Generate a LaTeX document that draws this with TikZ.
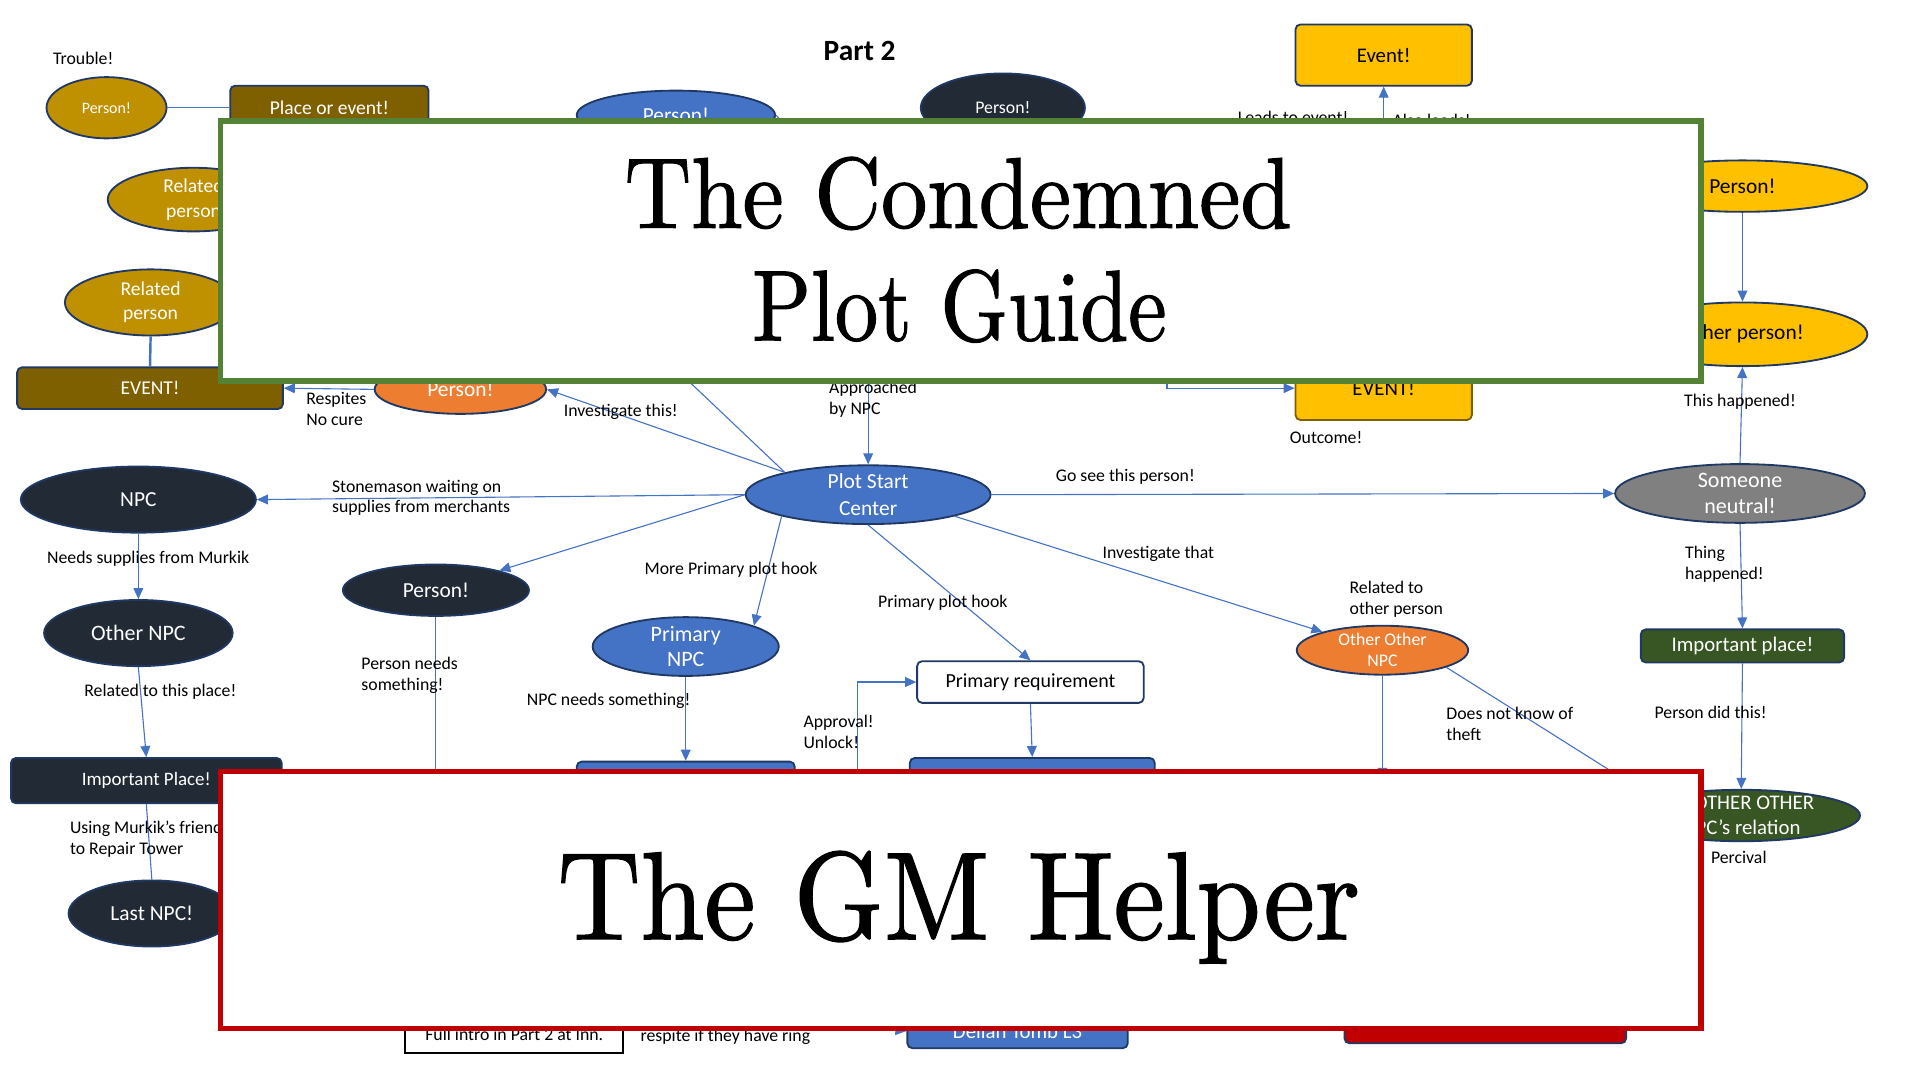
\documentclass[tikz,border=0pt]{standalone}
\usepackage{fontspec}
\setsansfont{Carlito}
\newfontfamily\titlefont[FakeBold=1.2]{lmroman10-regular.otf}
\usetikzlibrary{shapes.geometric,arrows.meta}

\definecolor{gold}{HTML}{BF9000}
\definecolor{umber}{HTML}{7F6000}
\definecolor{navy}{HTML}{222A35}
\definecolor{slate}{HTML}{1F3864}
\definecolor{cblue}{HTML}{4472C4}
\definecolor{amber}{HTML}{FFC000}
\definecolor{tangerine}{HTML}{ED7D31}
\definecolor{fern}{HTML}{375623}
\definecolor{grass}{HTML}{548235}
\definecolor{crimson}{HTML}{C00000}
\definecolor{stone}{HTML}{808080}

\newcommand\fsz[2]{\sffamily\fontsize{#1}{#2}\selectfont}

\begin{document}
\begin{tikzpicture}[x=1pt, y=-1pt,
  person/.style={ellipse, draw=slate, line width=1.5pt, inner sep=-4pt, text=white, align=center},
  place/.style={rectangle, rounded corners=4pt, draw=slate, line width=1.5pt, inner sep=0pt, text=white, align=center},
  arr/.style={draw=cblue, line width=0.9pt, -{Triangle[length=9pt,width=8pt]}},
  link/.style={draw=cblue, line width=0.9pt},
  lbl/.style={inner sep=0pt, align=left, font=\fsz{14.5}{17}}]
\useasboundingbox (0,0) rectangle (1568,882);

% left cluster
\node[person, fill=gold, minimum width=98pt, minimum height=50pt, font=\fsz{13}{15}] (p1) at (87,88) {Person!};
\node[place, fill=umber, minimum width=162pt, minimum height=36pt, font=\fsz{16}{19}] (place) at (269,88) {Place or event!};
\node[person, fill=gold, minimum width=140pt, minimum height=52pt, font=\fsz{16}{20}] (rel1) at (158,163) {Related\\person};
\node[person, fill=gold, minimum width=140pt, minimum height=54pt, font=\fsz{16}{20}] (rel2) at (123,247) {Related\\person};
\node[place, fill=umber, minimum width=217pt, minimum height=34pt, font=\fsz{16}{19}] (ev1) at (122.5,317) {EVENT!};
\node[person, fill=tangerine, minimum width=140pt, minimum height=40pt, font=\fsz{17.5}{21}] (po) at (376,318) {Person!};

% top row
\node[person, fill=cblue, minimum width=162pt, minimum height=40pt, font=\fsz{17.5}{21}] (pb) at (552,94) {Person!};
\node[person, fill=navy, minimum width=134pt, minimum height=56pt, font=\fsz{14.5}{17}] (pn) at (819,88) {Person!};
\node[place, fill=amber, text=black, minimum width=144pt, minimum height=50pt, font=\fsz{17}{20}] (ev) at (1130,45) {Event!};
\node[place, fill=amber, text=black, draw=umber, minimum width=144pt, minimum height=52pt, font=\fsz{17}{20}] (ev2) at (1130,317) {EVENT!};
\node[person, fill=amber, text=black, minimum width=204pt, minimum height=42pt, font=\fsz{17.5}{21}] (py1) at (1423,152) {Person!};
\node[person, fill=amber, text=black, minimum width=204pt, minimum height=52pt, font=\fsz{17.5}{21}] (py2) at (1423,273) {Other person!};

% middle
\node[person, fill=cblue, minimum width=200pt, minimum height=48pt, font=\fsz{17.5}{22}] (psc) at (709,404) {Plot Start\\Center};
\node[person, fill=navy, minimum width=192pt, minimum height=54pt, font=\fsz{17.5}{21}] (npc) at (113,408) {NPC};
\node[person, fill=navy, minimum width=154pt, minimum height=54pt, font=\fsz{18}{21}] (onpc) at (113,517) {Other NPC};
\node[place, fill=navy, minimum width=221pt, minimum height=37pt, font=\fsz{15.5}{18}] (ip) at (119.5,637.5) {Important Place!};
\node[person, fill=navy, minimum width=136pt, minimum height=54pt, font=\fsz{17.5}{21}] (lnpc) at (124,746) {Last NPC!};
\node[person, fill=navy, minimum width=152pt, minimum height=42pt, font=\fsz{17.5}{21}] (p3) at (356,482) {Person!};
\node[person, fill=cblue, minimum width=152pt, minimum height=48pt, font=\fsz{18}{21}] (pnpc) at (560,528) {Primary\\NPC};
\node[place, fill=cblue, minimum width=178pt, minimum height=60pt] (bx1) at (560,652) {};
\node[place, fill=white, text=black, minimum width=185pt, minimum height=34pt, font=\fsz{16.3}{19}] (preq) at (841.5,557) {Primary requirement};
\node[place, fill=cblue, minimum width=200pt, minimum height=60pt] (bx2) at (843,649) {};
\node[person, fill=tangerine, minimum width=140pt, minimum height=40pt, font=\fsz{14.5}{17}] (oonpc) at (1129,531) {Other Other\\NPC};
\node[person, fill=stone, minimum width=204pt, minimum height=48pt, font=\fsz{18}{21}] (sn) at (1421,403) {Someone\\neutral!};
\node[place, fill=fern, minimum width=166pt, minimum height=27pt, font=\fsz{17}{20}] (ipg) at (1423,527.5) {Important place!};
\node[person, fill=fern, minimum width=194pt, minimum height=42pt, font=\fsz{17}{20}] (aon) at (1422,666) {ANOTHER OTHER\\NPC’s relation};

% bottom strip
\node[rectangle, draw=black, line width=1.5pt, fill=white, minimum width=178pt, minimum height=30pt, font=\fsz{14.5}{17}] (fib) at (420,845) {Full intro in Part 2 at Inn.};
\node[place, fill=cblue, minimum width=180pt, minimum height=28pt, font=\fsz{17}{20}] (dt) at (831,842) {Delian Tomb L3};
\node[place, fill=crimson, minimum width=230pt, minimum height=28pt] (rb) at (1213,838) {};

% loose ends under the banners
\coordinate (c1) at (540,290);
\coordinate (c2) at (709,300);
\coordinate (c3) at (1130,110);
\coordinate (c4) at (953,300);
\coordinate (c5) at (650,112);
\coordinate (c6) at (356,640);
\coordinate (c7) at (700,640);
\coordinate (c8) at (1129,636);
\coordinate (c9) at (1332,640);
\coordinate (c10) at (690,838);

% connectors
\draw[link] (p1.east) -- (place.west);
\draw[link] (rel1) -- (place);
\draw[draw=cblue, line width=2pt] (rel2.south) -- (ev1.north);
\draw[arr] (po.west) -- (ev1.east);
\draw[link] (pb.east) -- (c5);
\draw[arr] (c3) -- (ev.south);
\draw[arr] (c4) |- (ev2.west);
\draw[arr] (py1.south) -- (py2.north);
\draw[arr] (sn.north) -- (py2.south);
\draw[arr] (psc.165) -- (po.east);
\draw[link] (psc.165) -- (c1);
\draw[arr] (c2) -- (psc.north);
\draw[arr] (psc.west) -- (npc.east);
\draw[arr] (psc.west) -- (p3);
\draw[arr] (psc.194) -- (pnpc.17);
\draw[arr] (psc.south) -- (preq.north);
\draw[arr] (psc.346) -- (oonpc.163);
\draw[arr] (psc.east) -- (sn.west);
\draw[arr] (npc.south) -- (onpc.north);
\draw[arr] (onpc.south) -- (ip.north);
\draw[link] (ip.south) -- (lnpc.north);
\draw[link] (p3.south) -- (c6);
\draw[arr] (pnpc.south) -- (bx1.north);
\draw[arr] (c7) |- (preq.west);
\draw[arr] (preq.south) -- (bx2.north);
\draw[arr] (oonpc.south) -- (c8);
\draw[link] (oonpc.345) -- (c9);
\draw[arr] (sn.south) -- (ipg.north);
\draw[arr] (ipg.south) -- (aon.north);
\draw[arr] (c10) -- (dt.west);

% labels
\node[inner sep=0pt, font=\fsz{24}{28}\bfseries] (part) at (702,42) {Part 2};
\node[lbl] (trouble) at (68,48) {Trouble!};
\node[lbl, anchor=west] (respites) at (250,334) {Respites\\No cure};
\node[lbl] (invthis) at (507,336) {Investigate this!};
\node[lbl, anchor=west] (approached) at (677,326) {Approached\\by NPC};
\node[lbl, anchor=west] (stonemason) at (271,406.5) {Stonemason waiting on\\supplies from merchants};
\node[lbl] (gosee) at (919,389) {Go see this person!};
\node[lbl] (needs) at (121,456) {Needs supplies from Murkik};
\node[lbl] (morehook) at (597,465) {More Primary plot hook};
\node[lbl] (invthat) at (946,452) {Investigate that};
\node[lbl] (hook) at (770,492) {Primary plot hook};
\node[lbl, anchor=west] (relto) at (1102,489.5) {Related to\\other person};
\node[lbl, anchor=west] (thing) at (1376,460.5) {Thing\\happened!};
\node[lbl] (thishap) at (1421,328) {This happened!};
\node[lbl] (outcome) at (1083,357) {Outcome!};
\node[lbl, anchor=west] (pneeds) at (295,551.5) {Person needs\\something!};
\node[lbl] (npcneeds) at (497,572) {NPC needs something!};
\node[lbl] (relplace) at (131,565) {Related to this place!};
\node[lbl, anchor=west] (approval) at (656,597.5) {Approval!\\Unlock!};
\node[lbl, anchor=west] (dnk) at (1181,591.5) {Does not know of\\theft};
\node[lbl] (pdid) at (1397,582) {Person did this!};
\node[lbl, anchor=west] (using) at (57,685) {Using Murkik’s friend\\to Repair Tower};
\node[lbl] (percival) at (1420,700) {Percival};
\node[lbl] (leads) at (1056,96) {Leads to event!};
\node[lbl, anchor=west] (alsoleads) at (1137,98) {Also leads!};
\node[lbl, anchor=west] (respite) at (523,847) {respite if they have ring};

% banners
\draw[draw=grass, line width=4.5pt, fill=white] (180,99) rectangle (1389,311);
\draw[draw=crimson, line width=4.5pt, fill=white] (180,630) rectangle (1389,840);
\node[anchor=base, inner sep=0pt, font=\titlefont\fontsize{82}{90}\selectfont] (tline1) at (782.5,186) {\scalebox{0.92}[1]{The Condemned}};
\node[anchor=base, inner sep=0pt, font=\titlefont\fontsize{82}{90}\selectfont] (tline2) at (783.5,278) {\scalebox{0.86}[1]{Plot Guide}};
\node[anchor=base, inner sep=0pt, font=\titlefont\fontsize{102}{110}\selectfont] (tline3) at (783,767) {\scalebox{0.92}[1]{The GM Helper}};

\end{tikzpicture}
\end{document}
